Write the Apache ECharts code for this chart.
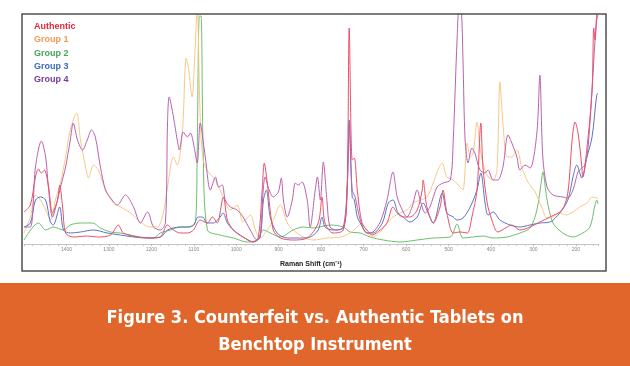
<!DOCTYPE html>
<html>
<head>
<meta charset="utf-8">
<script src="https://cdn.jsdelivr.net/npm/echarts@6/dist/echarts.min.js"></script>
<style>
html,body{margin:0;padding:0;background:#fff;}
#chart{width:630px;height:366px;}
</style>
</head>
<body>
<div id="chart"></div>
<script>
// Raman shift (cm-1), relative intensity
const seriesNames = ['Authentic', 'Group 1', 'Group 2', 'Group 3', 'Group 4'];
const figureTitle = 'Figure 3. Counterfeit vs. Authentic Tablets on\nBenchtop Instrument';
const axisTitle = 'Raman Shift (cm\u207B\u00B9)';

const authentic = [[1500,32],[1485,39],[1473,67],[1466,75],[1459,71],[1452,74],[1442,57],[1433,31],[1421,44],[1416,59],[1409,37],[1402,11],[1384,7],[1351,8],[1327,7],[1296,9],[1278,19],[1266,11],[1233,7],[1202,6],[1179,7],[1162,19],[1148,14],[1132,11],[1115,11],[1101,14],[1085,24],[1068,21],[1056,27],[1045,21],[1033,44],[1030,47],[1021,24],[1007,14],[984,7],[960,2],[948,7],[939,54],[934,81],[927,61],[913,14],[896,6],[866,4],[833,6],[807,21],[798,47],[791,21],[772,11],[748,14],[739,54],[734,216],[727,84],[722,86],[715,54],[704,21],[692,14],[680,9],[661,14],[645,21],[631,37],[621,31],[607,27],[591,27],[574,34],[562,54],[560,64],[551,37],[536,21],[520,37],[513,54],[504,31],[489,11],[473,12],[456,11],[445,27],[433,54],[424,121],[419,77],[409,41],[398,24],[384,12],[362,17],[351,19],[332,14],[308,17],[285,22],[261,27],[233,34],[219,51],[209,104],[202,122],[195,111],[186,77],[184,67],[172,104],[162,154],[158,216],[155,204],[151,229],[148,232]];

const group1 = [[1500,11],[1485,27],[1473,49],[1461,44],[1449,34],[1438,24],[1426,44],[1414,61],[1402,87],[1391,114],[1376,131],[1367,104],[1355,77],[1348,66],[1336,79],[1325,74],[1308,54],[1289,41],[1268,36],[1249,31],[1226,22],[1202,17],[1186,17],[1172,31],[1162,57],[1148,87],[1139,79],[1127,111],[1118,186],[1113,177],[1104,147],[1099,177],[1092,235],[1085,127],[1078,84],[1066,72],[1049,64],[1031,47],[1014,34],[998,39],[984,22],[967,29],[955,14],[944,6],[927,14],[915,22],[896,39],[880,21],[866,14],[842,7],[819,4],[786,6],[755,7],[732,11],[715,17],[704,21],[692,11],[678,7],[661,12],[645,21],[631,27],[614,31],[598,34],[584,41],[567,44],[551,47],[536,61],[525,74],[515,81],[504,67],[489,64],[473,57],[466,54],[456,101],[449,87],[442,91],[433,122],[426,97],[419,81],[407,67],[395,64],[386,74],[379,162],[372,121],[362,87],[351,87],[339,94],[327,76],[313,62],[296,52],[280,36],[268,26],[254,27],[238,31],[224,29],[207,32],[191,37],[174,41],[162,47],[151,46],[148,45]];

const group2 = [[1500,4],[1466,21],[1449,14],[1431,17],[1407,14],[1391,19],[1367,21],[1338,21],[1320,16],[1296,12],[1273,11],[1249,9],[1226,7],[1195,6],[1179,11],[1155,14],[1132,17],[1108,17],[1096,22],[1092,94],[1087,228],[1083,228],[1078,94],[1068,14],[1038,9],[1007,6],[974,2],[951,4],[936,14],[920,11],[896,7],[866,14],[842,17],[819,16],[779,19],[748,17],[732,12],[708,11],[685,7],[654,4],[614,2],[574,4],[536,6],[496,7],[480,20],[466,6],[442,7],[419,8],[395,6],[362,7],[332,11],[308,16],[292,34],[280,67],[278,72],[268,44],[254,21],[231,11],[207,7],[184,11],[167,17],[155,39],[151,44],[148,40]];

const group3 = [[1500,17],[1485,21],[1473,44],[1461,47],[1449,44],[1438,22],[1431,19],[1416,37],[1407,14],[1391,11],[1367,12],[1336,14],[1304,11],[1273,9],[1242,7],[1209,6],[1179,7],[1162,14],[1148,16],[1132,17],[1115,17],[1101,19],[1089,27],[1080,27],[1068,21],[1054,21],[1038,27],[1031,31],[1021,21],[1007,14],[984,7],[960,2],[944,7],[936,44],[929,54],[920,27],[904,11],[880,6],[849,6],[826,7],[807,14],[798,27],[791,17],[772,14],[748,16],[739,54],[734,124],[727,47],[722,44],[715,27],[708,21],[692,11],[678,11],[656,21],[642,41],[631,44],[619,31],[607,27],[591,22],[574,27],[560,41],[548,31],[536,21],[515,51],[504,31],[489,27],[480,24],[466,26],[449,37],[433,54],[424,71],[414,41],[407,29],[395,32],[379,24],[355,19],[332,17],[308,19],[285,21],[261,22],[238,31],[219,44],[207,67],[198,79],[186,66],[174,87],[162,107],[151,149],[148,151]];

const group4 = [[1500,17],[1485,17],[1473,77],[1459,103],[1449,87],[1442,54],[1433,27],[1421,44],[1414,57],[1402,77],[1391,104],[1384,121],[1374,104],[1362,94],[1351,104],[1341,114],[1332,107],[1320,77],[1308,54],[1296,46],[1280,39],[1261,49],[1242,37],[1226,21],[1209,32],[1195,17],[1179,14],[1167,21],[1162,121],[1158,147],[1148,127],[1139,104],[1134,94],[1125,112],[1115,107],[1108,111],[1101,101],[1092,81],[1085,121],[1073,87],[1061,54],[1049,67],[1042,57],[1033,59],[1026,44],[1014,37],[998,34],[984,27],[967,14],[951,4],[944,7],[936,57],[932,67],[925,57],[913,47],[901,52],[894,66],[889,44],[880,27],[868,44],[861,61],[854,59],[845,62],[833,44],[826,17],[814,54],[809,67],[802,44],[795,82],[786,41],[779,17],[762,14],[748,17],[739,54],[734,119],[727,54],[720,47],[708,24],[692,11],[678,12],[661,22],[645,44],[631,72],[621,47],[609,34],[598,27],[586,37],[574,54],[565,41],[555,31],[544,37],[527,57],[513,61],[496,64],[489,104],[480,204],[475,236],[470,234],[466,184],[461,104],[454,81],[445,96],[438,91],[426,74],[414,71],[407,74],[395,64],[384,64],[372,77],[360,109],[351,101],[339,87],[332,74],[320,79],[308,76],[292,111],[285,169],[278,87],[268,57],[254,49],[231,47],[219,46],[207,54],[195,72],[186,76],[179,79],[172,94],[162,154],[155,204],[151,224],[148,229]];

const lineColors = {
  'Authentic': '#ea5068',
  'Group 1': '#f7c888',
  'Group 2': '#6cbf6c',
  'Group 3': '#5a76c6',
  'Group 4': '#b862b0'
};
const legendColors = {
  'Authentic': '#e3273a',
  'Group 1': '#f29a55',
  'Group 2': '#45a557',
  'Group 3': '#3a6bbd',
  'Group 4': '#763a98'
};
const dataByName = {
  'Authentic': authentic, 'Group 1': group1, 'Group 2': group2, 'Group 3': group3, 'Group 4': group4
};
const drawOrder = ['Group 2', 'Group 1', 'Group 3', 'Group 4', 'Authentic'];

const chart = echarts.init(document.getElementById('chart'), null, {renderer: 'canvas'});
chart.setOption({
  backgroundColor: '#ffffff',
  animation: false,
  title: {
    text: figureTitle,
    left: 'center',
    top: 300,
    textStyle: {
      color: '#ffffff',
      fontSize: 18,
      fontWeight: 'bold',
      fontFamily: "'Liberation Sans Narrow', 'DejaVu Sans Condensed', sans-serif",
      lineHeight: 27
    }
  },
  graphic: [
    {type: 'rect', z: -10, silent: true, shape: {x: 0, y: 283, width: 630, height: 83}, style: {fill: '#e0662b'}},
    {type: 'rect', z: 100, silent: true, shape: {x: 22, y: 14, width: 584, height: 257}, style: {fill: 'none', stroke: '#505050', lineWidth: 1.5}}
  ],
  legend: {
    orient: 'vertical',
    left: 24,
    top: 17,
    icon: 'none',
    itemWidth: 0,
    itemHeight: 9,
    itemGap: 4.3,
    selectedMode: false,
    textStyle: {fontSize: 9, fontWeight: 'bold', fontFamily: 'Liberation Sans, Arial, sans-serif'},
    data: seriesNames.map(n => ({name: n, textStyle: {color: legendColors[n]}}))
  },
  grid: {left: 24, right: 32, top: 14, bottom: 122, containLabel: false},
  xAxis: {
    type: 'value',
    inverse: true,
    min: 148,
    max: 1500,
    splitNumber: 12,
    name: axisTitle,
    nameLocation: 'middle',
    nameGap: 17,
    nameTextStyle: {fontSize: 7, fontWeight: 'bold', color: '#222', fontFamily: 'Liberation Sans, Arial, sans-serif'},
    axisLine: {show: true, lineStyle: {color: '#c4c4c4', width: 1}},
    axisTick: {show: true, length: 2, lineStyle: {color: '#bbbbbb'}},
    minorTick: {show: true, splitNumber: 5, length: 2, lineStyle: {color: '#c8c8c8'}},
    splitLine: {show: false},
    axisLabel: {fontSize: 5, color: '#888', margin: 3, showMinLabel: false, showMaxLabel: false,
      formatter: v => String(Math.round(v))}
  },
  yAxis: {type: 'value', min: 0, max: 230, show: false, splitLine: {show: false}},
  series: drawOrder.map(n => ({
    name: n,
    type: 'line',
    data: dataByName[n],
    showSymbol: false,
    symbol: 'none',
    smooth: 0.3,
    clip: true,
    color: lineColors[n],
    lineStyle: {width: 1, color: lineColors[n]}
  }))
});
</script>
</body>
</html>
